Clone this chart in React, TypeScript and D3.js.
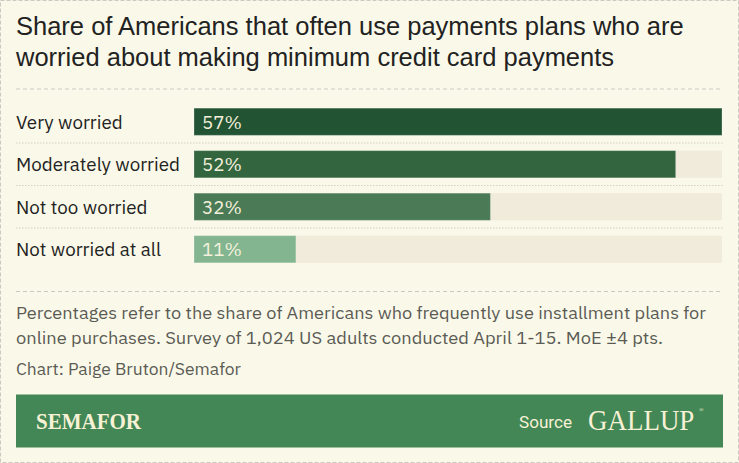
import React from "react";
import * as d3 from "d3";

const titleLines = [
  "Share of Americans that often use payments plans who are",
  "worried about making minimum credit card payments",
];
const categories = ["Very worried", "Moderately worried", "Not too worried", "Not worried at all"];
const values = [57, 52, 32, 11];
const barColors = ["#225434", "#33663f", "#4a7b56", "#83b690"];
const noteLines = [
  "Percentages refer to the share of Americans who frequently use installment plans for",
  "online purchases. Survey of 1,024 US adults conducted April 1-15. MoE ±4 pts.",
];
const noteWidths = [690, 647];
const credit = "Chart: Paige Bruton/Semafor";

const W = 739;
const H = 463;

export default function App() {
  const x = d3.scaleLinear().domain([0, d3.max(values) as number]).range([194, 722]);
  const y = d3.scaleBand<string>().domain(categories).range([100.5, 270.5]).paddingInner(0.36).paddingOuter(0.18);
  const bh = y.bandwidth();
  const step = y.step();
  const bodyFont = "'IBM Plex Sans', 'Open Sans', Roboto, sans-serif";
  const titleFont = "'Helvetica Neue', Helvetica, 'Liberation Sans', Arial, sans-serif";
  return (
    <div style={{ position: "absolute", left: 0, top: 0 }}>
      <style>{"body{margin:0}"}</style>
      <svg width={W} height={H} style={{ display: "block" }}>
        <rect x={0} y={0} width={W} height={H} fill="#faf9e9" />
        <rect x={0.5} y={0.5} width={W - 1} height={H - 1} fill="none" stroke="#c9c9c2" strokeDasharray="4 2" />
        {titleLines.map((t, i) => (
          <text key={t} x={16} y={35 + i * 31} fontFamily={titleFont} fontSize={25.5} fill="#222">
            {t}
          </text>
        ))}
        <line x1={16} x2={723} y1={89} y2={89} stroke="#c9c9c2" strokeDasharray="4 3" />
        {categories.map((c, i) => {
          const top = y(c) as number;
          return (
            <g key={c}>
              {i > 0 && (
                <line x1={16} x2={723} y1={top - (step - bh) / 2} y2={top - (step - bh) / 2} stroke="#d2d1c2" strokeDasharray="1.5 1.5" />
              )}
              <rect x={x(0)} y={top} width={x.range()[1] - x(0)} height={bh} fill="#f0ebda" />
              <rect x={x(0)} y={top} width={x(values[i]) - x(0)} height={bh} fill={barColors[i]} stroke="rgba(255,255,255,0.25)" strokeWidth={1} />
              <text x={16} y={top + bh / 2 + 6.8} fontFamily={bodyFont} fontSize={18.8} fill="#222">
                {c}
              </text>
              <text x={x(0) + 8} y={top + bh / 2 + 6.8} fontFamily={bodyFont} fontSize={18.8} fill="#f4f0dc">
                {values[i] + "%"}
              </text>
            </g>
          );
        })}
        <line x1={16} x2={723} y1={291.5} y2={291.5} stroke="#c9c9c2" strokeDasharray="4 3" />
        {noteLines.map((t, i) => (
          <text key={t} x={16} y={318.5 + i * 25} fontFamily={bodyFont} fontSize={17.6} fill="#5b5b55" textLength={noteWidths[i]} lengthAdjust="spacingAndGlyphs">
            {t}
          </text>
        ))}
        <text x={16} y={375} fontFamily={bodyFont} fontSize={17.6} fill="#5b5b55" textLength={225} lengthAdjust="spacingAndGlyphs">
          {credit}
        </text>
        <rect x={16} y={394.5} width={707} height={53} fill="#428755" />
        <text x={36} y={429} fontFamily="'Liberation Serif', 'DejaVu Serif', serif" fontWeight="bold" fontSize={23} fill="#f7f1d6" textLength={105} lengthAdjust="spacingAndGlyphs">
          SEMAFOR
        </text>
        <text x={519} y={428} fontFamily="Roboto, sans-serif" fontSize={17} fill="#f7f1d6" textLength={53} lengthAdjust="spacingAndGlyphs">
          Source
        </text>
        <text transform="translate(588,430) scale(0.93,1)" fontFamily="'Liberation Serif', serif" fontSize={29} fill="#f7f1d6">
          GALLUP
        </text>
        <text x={699} y={412} fontFamily="'Liberation Serif', serif" fontSize={6} fill="#f7f1d6">
          ®
        </text>
      </svg>
    </div>
  );
}
